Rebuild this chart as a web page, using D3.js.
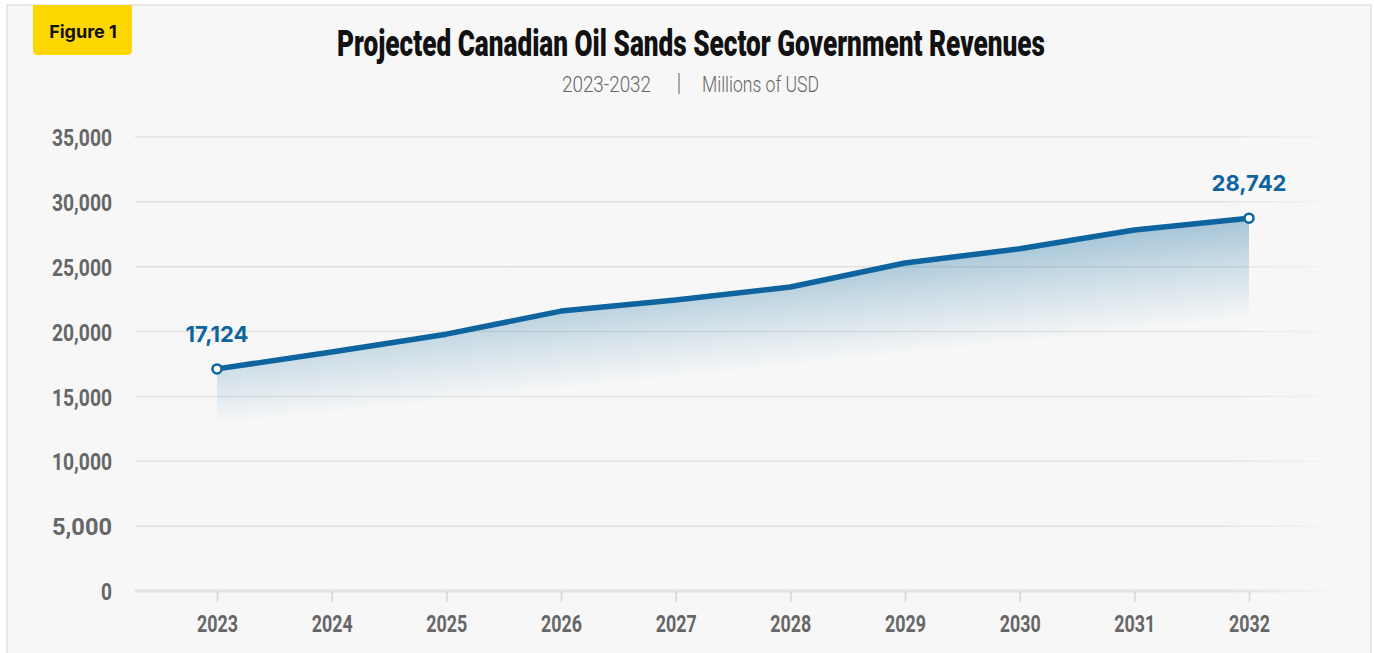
<!DOCTYPE html>
<html>
<head>
<meta charset="utf-8">
<script src="https://cdn.jsdelivr.net/npm/d3@7"></script>
<style>
  html, body { margin: 0; padding: 0; background: #ffffff; }
  svg { display: block; }
</style>
</head>
<body>
<div id="chart"></div>
<script>
// data
const years = ["2023", "2024", "2025", "2026", "2027", "2028", "2029", "2030", "2031", "2032"];
const revenues = [17124, 18430, 19800, 21580, 22430, 23440, 25290, 26380, 27830, 28742];
const yTicks = [0, 5000, 10000, 15000, 20000, 25000, 30000, 35000];
const labelledYears = ["2023", "2032"];

const width = 1374, height = 653;

const svg = d3.select("#chart")
    .append("svg")
    .attr("width", width)
    .attr("height", height);

const defs = svg.append("defs");

// frame
svg.append("rect")
    .attr("x", 7).attr("y", 5)
    .attr("width", 1364).attr("height", 660)
    .attr("fill", "#f7f7f7")
    .attr("stroke", "#e2e2e2")
    .attr("stroke-width", 1.5);

// scales
const x = d3.scalePoint().domain(years).range([217, 1249]);
const y = d3.scaleLinear().domain([0, 35000]).range([591, 137]);

const gridLeft = 135, gridRight = 1342;

// fading grid stroke
const gridGrad = defs.append("linearGradient")
    .attr("id", "gridFade")
    .attr("gradientUnits", "userSpaceOnUse")
    .attr("x1", gridLeft).attr("x2", gridRight)
    .attr("y1", 0).attr("y2", 0);
gridGrad.append("stop").attr("offset", "0.9").attr("stop-color", "#e2e2e2");
gridGrad.append("stop").attr("offset", "1").attr("stop-color", "#e2e2e2").attr("stop-opacity", 0);

// grid lines
svg.append("g")
    .selectAll("line")
    .data(yTicks)
    .enter()
    .append("line")
    .attr("x1", gridLeft)
    .attr("x2", gridRight)
    .attr("y1", (d) => y(d))
    .attr("y2", (d) => y(d))
    .attr("stroke", "url(#gridFade)")
    .attr("stroke-width", (d) => d === 0 ? 3 : 1.5);

// y axis labels
const yAxis = svg.append("g")
    .attr("transform", "translate(112,0)")
    .call(d3.axisLeft(y).tickValues(yTicks).tickSize(0).tickPadding(0).tickFormat(d3.format(",")));
yAxis.select(".domain").remove();
yAxis.selectAll("text")
    .attr("font-family", "Roboto, sans-serif")
    .attr("font-weight", 700)
    .attr("font-size", 24)
    .attr("fill", "#666666")
    .attr("dy", "0.36em")
    .attr("textLength", (d) => d === 0 ? 11 : 60)
    .attr("lengthAdjust", "spacingAndGlyphs");

// x axis
const xAxis = svg.append("g")
    .attr("transform", "translate(0," + y(0) + ")")
    .call(d3.axisBottom(x).tickSize(11).tickPadding(13));
xAxis.select(".domain").remove();
xAxis.selectAll("line")
    .attr("stroke", "#dcdcdc")
    .attr("stroke-width", 2);
xAxis.selectAll("text")
    .attr("font-family", "Roboto, sans-serif")
    .attr("font-weight", 700)
    .attr("font-size", 24)
    .attr("fill", "#666666")
    .attr("textLength", 41)
    .attr("lengthAdjust", "spacingAndGlyphs");

// area gradient (tilted fade)
const first = revenues[0], last = revenues[revenues.length - 1];
const fadeLeft = y(first) + 57, fadeRight = y(last) + 102;
const dx = x(years[years.length - 1]) - x(years[0]);
const dy = fadeRight - fadeLeft;
const len = Math.hypot(dx, dy);
const nx = -dy / len, ny = dx / len;
const dist = (fadeRight - y(last)) * ny;
const areaGrad = defs.append("linearGradient")
    .attr("id", "areaFade")
    .attr("gradientUnits", "userSpaceOnUse")
    .attr("x1", x(years[years.length - 1]))
    .attr("y1", y(last))
    .attr("x2", x(years[years.length - 1]) + nx * dist)
    .attr("y2", y(last) + ny * dist);
areaGrad.append("stop").attr("offset", "0").attr("stop-color", "#2a7aa8").attr("stop-opacity", 0.4);
areaGrad.append("stop").attr("offset", "0.45").attr("stop-color", "#2a7aa8").attr("stop-opacity", 0.2);
areaGrad.append("stop").attr("offset", "1").attr("stop-color", "#2a7aa8").attr("stop-opacity", 0);

const points = years.map((d, i) => ({ year: d, value: revenues[i] }));

const area = d3.area()
    .x((d) => x(d.year))
    .y0(y(0))
    .y1((d) => y(d.value));

svg.append("path")
    .datum(points)
    .attr("d", area)
    .attr("fill", "url(#areaFade)");

const line = d3.line()
    .x((d) => x(d.year))
    .y((d) => y(d.value));

svg.append("path")
    .datum(points)
    .attr("d", line)
    .attr("fill", "none")
    .attr("stroke", "#0e649e")
    .attr("stroke-width", 5.5)
    .attr("stroke-linecap", "round")
    .attr("stroke-linejoin", "round");

// end markers and labels
const labelled = points.filter((d) => labelledYears.includes(d.year));

svg.append("g")
    .selectAll("circle")
    .data(labelled)
    .enter()
    .append("circle")
    .attr("cx", (d) => x(d.year))
    .attr("cy", (d) => y(d.value))
    .attr("r", 4.5)
    .attr("fill", "#ffffff")
    .attr("stroke", "#0e649e")
    .attr("stroke-width", 2.5);

svg.append("g")
    .selectAll("text")
    .data(labelled)
    .enter()
    .append("text")
    .attr("x", (d) => x(d.year))
    .attr("y", (d) => y(d.value) - 27)
    .attr("text-anchor", "middle")
    .attr("font-family", "Inter, Roboto, sans-serif")
    .attr("font-weight", 700)
    .attr("font-size", 22)
    .attr("fill", "#0e649e")
    .text((d) => d3.format(",")(d.value));

// title
svg.append("text")
    .attr("x", 691)
    .attr("y", 56)
    .attr("text-anchor", "middle")
    .attr("font-family", "Roboto, sans-serif")
    .attr("font-weight", 900)
    .attr("font-size", 36)
    .attr("fill", "#111111")
    .attr("textLength", 708)
    .attr("lengthAdjust", "spacingAndGlyphs")
    .text("Projected Canadian Oil Sands Sector Government Revenues");

// subtitle
const sub = svg.append("g")
    .attr("font-family", "Roboto, sans-serif")
    .attr("font-weight", 300)
    .attr("font-size", 22)
    .attr("fill", "#666666");
sub.append("text")
    .attr("x", 562).attr("y", 92)
    .attr("textLength", 89)
    .attr("lengthAdjust", "spacingAndGlyphs")
    .text("2023-2032");
sub.append("line")
    .attr("x1", 679).attr("x2", 679)
    .attr("y1", 73).attr("y2", 94)
    .attr("stroke", "#777777")
    .attr("stroke-width", 1.2);
sub.append("text")
    .attr("x", 702).attr("y", 92)
    .attr("textLength", 117)
    .attr("lengthAdjust", "spacingAndGlyphs")
    .text("Millions of USD");

// figure badge
svg.append("path")
    .attr("d", "M33,5 H132 V50 Q132,55 127,55 H38 Q33,55 33,50 Z")
    .attr("fill", "#ffd700");
svg.append("text")
    .attr("x", 83)
    .attr("y", 38)
    .attr("text-anchor", "middle")
    .attr("font-family", "Inter, Roboto, sans-serif")
    .attr("font-weight", 700)
    .attr("font-size", 18)
    .attr("fill", "#111111")
    .text("Figure 1");
</script>
</body>
</html>
